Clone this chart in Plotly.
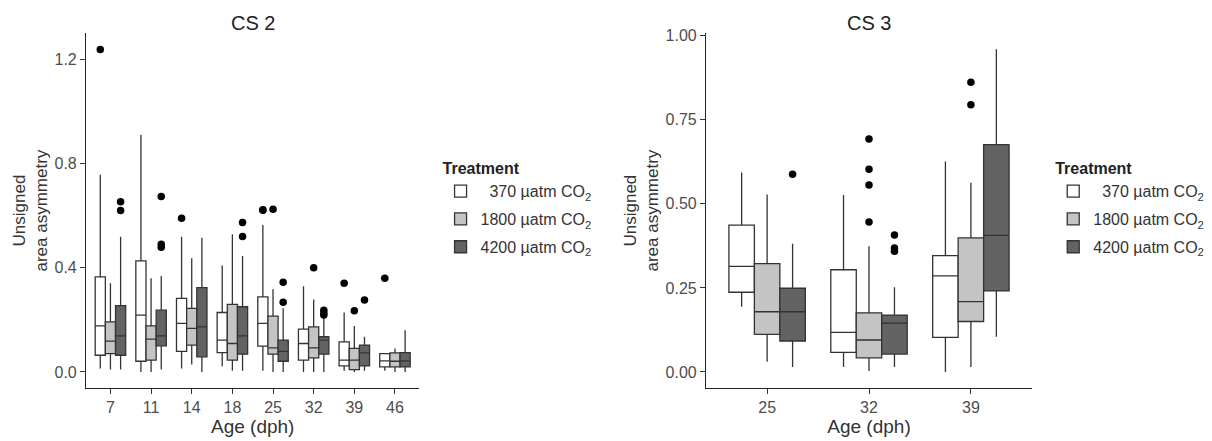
import plotly.graph_objects as go

# ---------------- data ----------------
treatments = ["370 µatm CO<sub>2</sub>", "1800 µatm CO<sub>2</sub>", "4200 µatm CO<sub>2</sub>"]
fills = ["#ffffff", "#c4c4c4", "#636363"]

cs2_days = ["7", "11", "14", "18", "25", "32", "39", "46"]
# per treatment: lists over days
cs2_low = [
    [0.013, 0.000, 0.013, 0.022, 0.004, 0.000, 0.004, 0.004],
    [0.009, 0.000, 0.028, 0.004, 0.000, 0.000, 0.000, 0.000],
    [0.009, 0.009, 0.000, 0.004, 0.000, 0.000, 0.004, 0.000],
]
cs2_q1 = [
    [0.064, 0.041, 0.079, 0.074, 0.099, 0.045, 0.023, 0.019],
    [0.070, 0.045, 0.103, 0.045, 0.068, 0.054, 0.009, 0.019],
    [0.064, 0.100, 0.058, 0.068, 0.041, 0.068, 0.023, 0.019],
]
cs2_med = [
    [0.177, 0.218, 0.186, 0.122, 0.186, 0.109, 0.045, 0.042],
    [0.118, 0.126, 0.167, 0.109, 0.092, 0.092, 0.045, 0.041],
    [0.138, 0.138, 0.173, 0.138, 0.079, 0.122, 0.073, 0.042],
]
cs2_q3 = [
    [0.365, 0.426, 0.282, 0.228, 0.288, 0.164, 0.115, 0.070],
    [0.192, 0.177, 0.244, 0.259, 0.214, 0.173, 0.090, 0.073],
    [0.254, 0.237, 0.323, 0.250, 0.122, 0.135, 0.103, 0.074],
]
cs2_high = [
    [0.756, 0.910, 0.519, 0.408, 0.564, 0.329, 0.228, 0.073],
    [0.340, 0.359, 0.436, 0.528, 0.317, 0.278, 0.176, 0.090],
    [0.519, 0.368, 0.515, 0.445, 0.244, 0.218, 0.135, 0.160],
]
# outliers: (day, value) per treatment
cs2_out_x = [
    ["7", "14", "25", "25", "39", "46"],
    ["25", "32", "39"],
    ["7", "7", "11", "11", "11", "18", "18", "25", "25", "32", "32", "32", "39"],
]
cs2_out_y = [
    [1.237, 0.590, 0.622, 0.620, 0.340, 0.359],
    [0.624, 0.400, 0.235],
    [0.653, 0.619, 0.673, 0.490, 0.478, 0.573, 0.520, 0.344, 0.267, 0.237, 0.225, 0.218, 0.276],
]

cs3_days = ["25", "32", "39"]
cs3_low = [
    [0.194, 0.015, 0.000],
    [0.030, 0.003, 0.015],
    [0.015, 0.015, 0.105],
]
cs3_q1 = [
    [0.237, 0.058, 0.103],
    [0.112, 0.042, 0.150],
    [0.092, 0.053, 0.241],
]
cs3_med = [
    [0.314, 0.118, 0.286],
    [0.179, 0.095, 0.209],
    [0.179, 0.145, 0.406],
]
cs3_q3 = [
    [0.437, 0.304, 0.346],
    [0.322, 0.176, 0.399],
    [0.249, 0.169, 0.676],
]
cs3_high = [
    [0.593, 0.526, 0.626],
    [0.528, 0.374, 0.563],
    [0.381, 0.252, 0.960],
]
cs3_out_x = [
    [],
    ["32", "32", "32", "32", "39", "39"],
    ["25", "32", "32", "32"],
]
cs3_out_y = [
    [],
    [0.693, 0.603, 0.556, 0.446, 0.862, 0.795],
    [0.588, 0.407, 0.369, 0.359],
]

# ---------------- figure ----------------
FONT = "Liberation Sans, Arial, sans-serif"
LINE = "#333333"
fig = go.Figure()

panels = [
    dict(days=cs2_days, low=cs2_low, q1=cs2_q1, med=cs2_med, q3=cs2_q3, high=cs2_high,
         ox=cs2_out_x, oy=cs2_out_y, xa="x", ya="y", legend="legend"),
    dict(days=cs3_days, low=cs3_low, q1=cs3_q1, med=cs3_med, q3=cs3_q3, high=cs3_high,
         ox=cs3_out_x, oy=cs3_out_y, xa="x2", ya="y2", legend="legend2"),
]

for pi, p in enumerate(panels):
    for ti, name in enumerate(treatments):
        fig.add_trace(go.Box(
            x=p["days"], q1=p["q1"][ti], median=p["med"][ti], q3=p["q3"][ti],
            lowerfence=p["low"][ti], upperfence=p["high"][ti],
            name=("\u2007" + name) if ti == 0 else name,
            boxpoints=False, fillcolor=fills[ti],
            line=dict(color=LINE, width=1.3), whiskerwidth=0,
            offsetgroup=str(ti), alignmentgroup="a",
            xaxis=p["xa"], yaxis=p["ya"], legend=p["legend"],
            legendgroup=f"g{pi}{ti}", hoverinfo="skip",
        ))
        fig.add_trace(go.Scatter(
            x=p["ox"][ti], y=p["oy"][ti], mode="markers",
            marker=dict(color="black", size=7.5),
            offsetgroup=str(ti), alignmentgroup="a",
            xaxis=p["xa"], yaxis=p["ya"], showlegend=False, hoverinfo="skip",
        ))

axis_common = dict(showline=True, linecolor="#222222", linewidth=1.2, ticks="outside",
                   ticklen=5, tickcolor="#333333", showgrid=False, zeroline=False,
                   tickfont=dict(size=16, color="#4d4d4d", family=FONT), automargin=False)
xtitle_font = dict(size=19, color="#333333", family=FONT)
ytitle_font = dict(size=17, color="#333333", family=FONT)
legend_common = dict(title=dict(text="<b>Treatment</b>", font=dict(size=16, color="#222222")),
                     font=dict(size=16, color="#333333", family=FONT), tracegroupgap=4,
                     bgcolor="rgba(0,0,0,0)", xanchor="left", yanchor="top")

fig.update_layout(
    width=1212, height=441, margin=dict(l=0, r=0, t=0, b=0),
    template=None, plot_bgcolor="white", paper_bgcolor="white",
    font=dict(family=FONT, color="#222222"),
    boxmode="group", boxgap=0.25, boxgroupgap=0.0,
    scattermode="group", scattergap=0.25,
    xaxis=dict(domain=[0.071, 0.346], type="category", categoryorder="array",
               categoryarray=cs2_days, range=[-0.6, 7.6],
               title=dict(text="Age (dph)", font=xtitle_font, standoff=2), **axis_common),
    yaxis=dict(domain=[0.12, 0.925], range=[-0.062, 1.30], tickvals=[0, 0.4, 0.8, 1.2],
               tickformat=".1f", title=dict(text="Unsigned<br>area asymmetry", font=ytitle_font, standoff=2),
               **axis_common),
    xaxis2=dict(domain=[0.5825, 0.8515], type="category", categoryorder="array",
                categoryarray=cs3_days, range=[-0.6, 2.6], anchor="y2",
                title=dict(text="Age (dph)", font=xtitle_font, standoff=2), **axis_common),
    yaxis2=dict(domain=[0.12, 0.925], range=[-0.048, 1.008], tickvals=[0, 0.25, 0.5, 0.75, 1.0],
                tickformat=".2f", anchor="x2",
                title=dict(text="Unsigned<br>area asymmetry", font=ytitle_font, standoff=2),
                **axis_common),
    legend=dict(x=0.3635, y=0.652, **legend_common),
    legend2=dict(x=0.869, y=0.652, **legend_common),
    annotations=[
        dict(text="CS 2", x=0.2085, y=0.948, xref="paper", yref="paper", showarrow=False,
             font=dict(size=20, color="#222222"), xanchor="center", yanchor="middle"),
        dict(text="CS 3", x=0.717, y=0.948, xref="paper", yref="paper", showarrow=False,
             font=dict(size=20, color="#222222"), xanchor="center", yanchor="middle"),
    ],
)

fig.write_html("out.html")
